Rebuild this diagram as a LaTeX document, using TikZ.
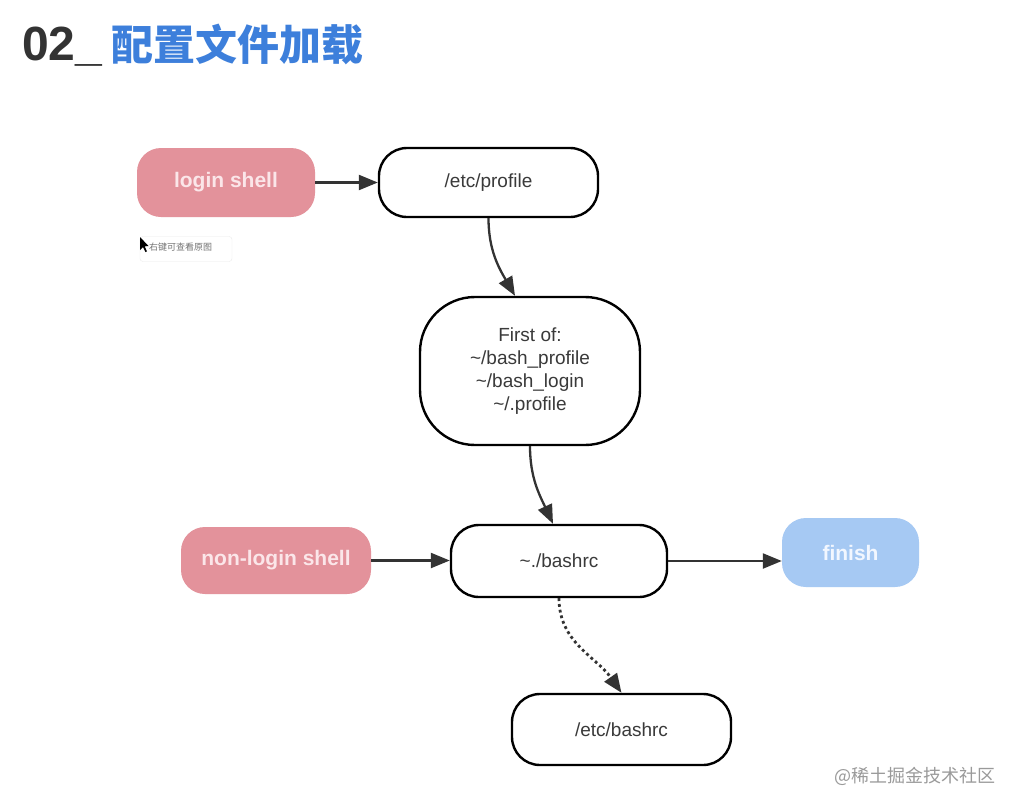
\documentclass[tikz,border=0pt]{standalone}
\usepackage{fontspec}
\setmainfont{Liberation Sans}
\newfontfamily\cjk{Noto Sans CJK SC}
\usetikzlibrary{arrows.meta}
\definecolor{pinkfill}{HTML}{E3929B}
\definecolor{pinktext}{HTML}{FBE6E9}
\definecolor{bluefill}{HTML}{A6C9F3}
\definecolor{bluetext}{HTML}{F2F7FF}
\definecolor{edgegray}{HTML}{333333}
\definecolor{textgray}{HTML}{3A3A3A}
\definecolor{titlegray}{HTML}{333333}
\definecolor{titleblue}{HTML}{3D7FDB}
\definecolor{wmgray}{HTML}{9A9A9A}
\tikzset{
  box/.style={draw=black, line width=2.4pt, fill=white, rounded corners=28pt,
    minimum width=219pt, minimum height=69pt, text=textgray, inner sep=0pt,
    font=\fontsize{19}{23}\selectfont, align=center},
  pill/.style={fill=pinkfill, draw=none, rounded corners=24pt, text=pinktext,
    inner sep=0pt, font=\fontsize{21}{25}\selectfont\bfseries},
  bpill/.style={pill, fill=bluefill, text=bluetext},
  arr/.style={-{Triangle[length=19pt,width=15pt]}, line width=2.3pt, draw=edgegray}
}
\begin{document}
\begin{tikzpicture}[x=1pt,y=-1pt]
\fill[white] (0,0) rectangle (1018,809);
\useasboundingbox (0,0) rectangle (1018,809);
% title
\node[anchor=base west, inner sep=0pt, text=titlegray, font=\fontsize{48}{48}\selectfont\bfseries] (t1) at (22,60) {02\_};
\node[anchor=base west, inner sep=0pt, text=titleblue, font=\cjk\fontsize{42}{42}\selectfont\bfseries] (t2) at ([xshift=9pt]t1.base east) {配置文件加载};
% nodes
\node[pill, minimum width=178pt, minimum height=69pt] (login) at (226,182.5) {login shell};
\node[box] (prof) at (488.5,182.5) {/etc/profile};
\node[box, minimum width=220pt, minimum height=148pt, rounded corners=55pt] (first) at (530,371)
  {First of:\\\textasciitilde/bash\_profile\\\textasciitilde/bash\_login\\\textasciitilde/.profile};
\node[pill, minimum width=190pt, minimum height=67pt] (nonlogin) at (276,560.5) {non-login shell};
\node[box, minimum width=216pt, minimum height=72pt] (bashrc) at (559,561) {\textasciitilde./bashrc};
\node[bpill, minimum width=137pt, minimum height=69pt] (finish) at (850.5,552.5) {finish};
\node[box, minimum width=219pt, minimum height=71pt] (etcb) at (621.5,729.5) {/etc/bashrc};
% connectors
\draw[arr] (login) -- (prof);
\draw[arr] (prof.south) to[out=-90,in=120] ([xshift=-15pt]first.north);
\draw[arr] (first.south) to[out=-90,in=115] ([xshift=-6pt]bashrc.north);
\draw[arr] (nonlogin.east) -- (nonlogin.east -| bashrc.west);
\draw[arr] (bashrc.east) -- (bashrc.east -| finish.west);
\draw[arr, line width=2.8pt, dash pattern=on 2.8pt off 3pt] (bashrc.south) to[out=-90,in=125] (etcb.north);
% tooltip
\node[fill=white, draw=black!8, rounded corners=3pt, minimum width=92pt, minimum height=25pt, inner sep=0pt] (tip) at (186,249) {};
\node[anchor=west, inner sep=0pt, text=black!55, font=\cjk\fontsize{9}{9}\selectfont] (tiptext) at (149,247) {右键可查看原图};
\fill[black] (140,237) -- (140,250) -- (143,247) -- (145.5,252) -- (147,251.3) -- (144.6,246.4) -- (148.5,246) -- cycle;
% watermark
\node[anchor=west, inner sep=0pt, text=wmgray, font=\cjk\fontsize{18}{18}\selectfont] (wm) at (834,776) {@稀土掘金技术社区};
\end{tikzpicture}
\end{document}
